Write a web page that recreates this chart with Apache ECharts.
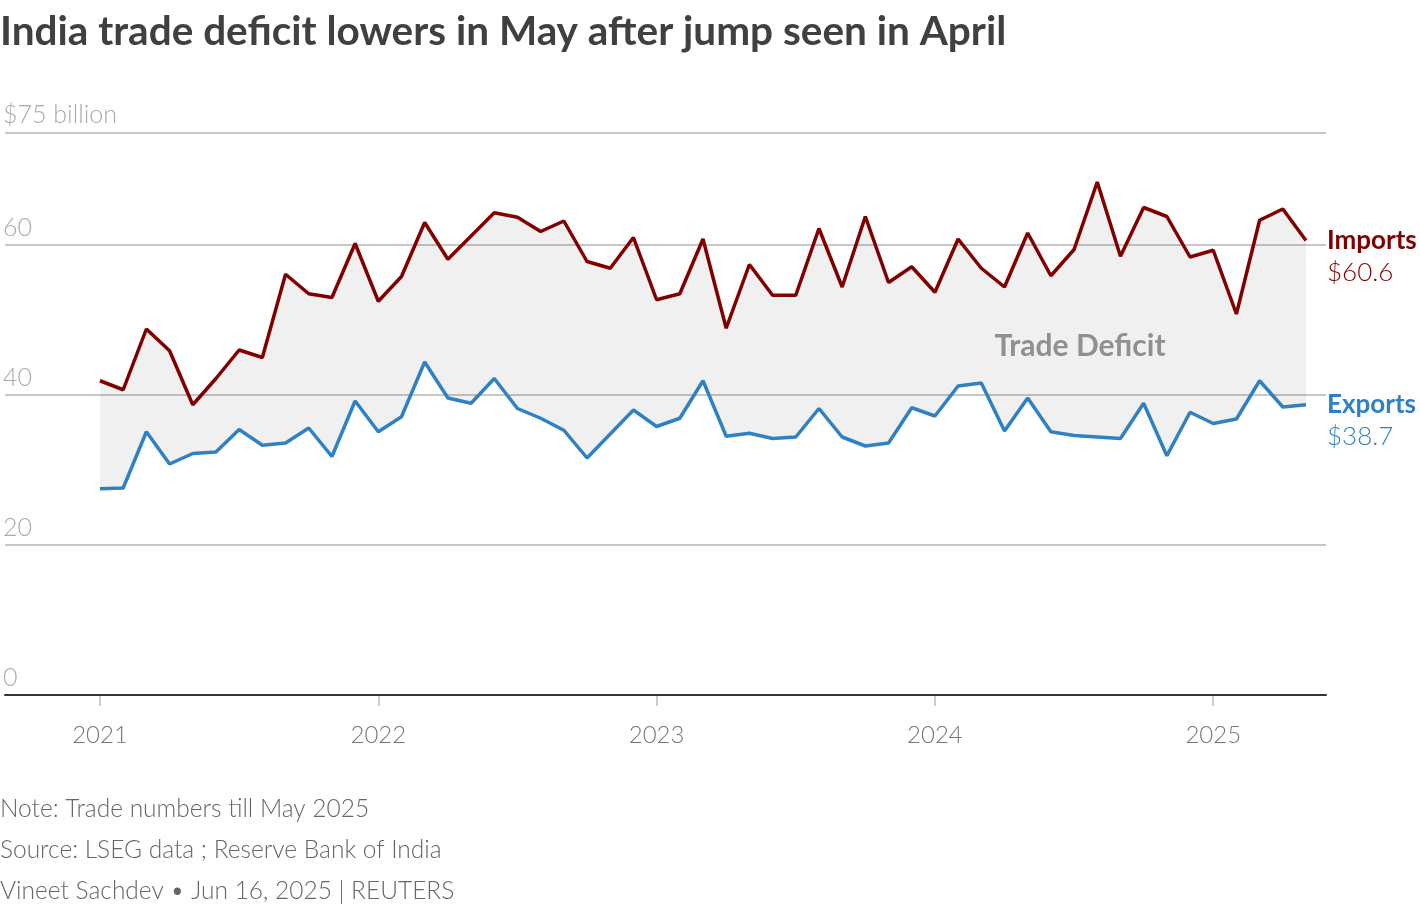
<!DOCTYPE html>
<html><head><meta charset="utf-8">
<script src="https://cdn.jsdelivr.net/npm/echarts@6/dist/echarts.min.js"></script>
<style>html,body{margin:0;padding:0;background:#fff}#c{width:1420px;height:914px}</style>
</head><body><div id="c"></div>
<script>
const months = [
 '2021-01','2021-02','2021-03','2021-04','2021-05','2021-06','2021-07','2021-08','2021-09','2021-10','2021-11','2021-12',
 '2022-01','2022-02','2022-03','2022-04','2022-05','2022-06','2022-07','2022-08','2022-09','2022-10','2022-11','2022-12',
 '2023-01','2023-02','2023-03','2023-04','2023-05','2023-06','2023-07','2023-08','2023-09','2023-10','2023-11','2023-12',
 '2024-01','2024-02','2024-03','2024-04','2024-05','2024-06','2024-07','2024-08','2024-09','2024-10','2024-11','2024-12',
 '2025-01','2025-02','2025-03','2025-04','2025-05'];
const imports = [
 41.9,40.7,48.8,45.9,38.7,42.2,46.0,45.0,56.1,53.5,53.0,60.2,
 52.5,55.8,63.0,58.1,61.2,64.3,63.7,61.8,63.2,57.8,56.9,61.0,
 52.7,53.5,60.8,48.9,57.4,53.3,53.3,62.2,54.4,63.8,55.0,57.1,
 53.7,60.8,56.9,54.4,61.6,55.9,59.4,68.4,58.5,65.0,63.8,58.4,
 59.3,50.8,63.3,64.8,60.6];
const exportsV = [
 27.5,27.6,35.1,30.8,32.2,32.4,35.4,33.3,33.6,35.6,31.8,39.2,
 35.1,37.1,44.4,39.6,38.9,42.2,38.2,36.9,35.3,31.6,34.8,38.0,
 35.8,36.9,41.9,34.5,34.9,34.2,34.4,38.2,34.4,33.2,33.6,38.3,
 37.2,41.2,41.6,35.2,39.6,35.1,34.6,34.4,34.2,38.9,31.9,37.7,
 36.2,36.8,41.9,38.4,38.7];
const yTicks = [0, 20, 40, 60, 75];
const title = 'India trade deficit lowers in May after jump seen in April';
const footer = ['Note: Trade numbers till May 2025','Source: LSEG data ; Reserve Bank of India','Vineet Sachdev \u2022 Jun 16, 2025 | REUTERS'];

const gap = imports.map((v, i) => +(v - exportsV[i]).toFixed(2));
const FONT = 'Lato';
const chart = echarts.init(document.getElementById('c'), null, {renderer: 'canvas'});
const gTop = 132.5, gBottom = 219;
chart.setOption({
  animation: false,
  textStyle: {fontFamily: FONT},
  grid: [
    {left: 0, right: 94, top: gTop, bottom: gBottom},
    {left: 100, right: 114, top: gTop, bottom: gBottom}
  ],
  xAxis: [
    {gridIndex: 0, type: 'value', min: 0, max: 1, axisLabel: {show: false}, axisTick: {show: false},
     splitLine: {show: false}, axisLine: {show: true, onZero: false, lineStyle: {color: '#333', width: 2}}, z: 5},
    {gridIndex: 1, type: 'category', data: months, boundaryGap: false,
     axisLine: {show: false},
     axisTick: {show: true, length: 11, interval: (i) => i % 12 === 0, lineStyle: {color: '#ccc', width: 2}},
     axisLabel: {interval: (i) => i % 12 === 0, formatter: (v) => v.slice(0, 4), color: '#777', fontSize: 24, margin: 28, fontFamily: FONT, fontWeight: 300},
     splitLine: {show: false}}
  ],
  yAxis: [
    {gridIndex: 0, type: 'value', min: 0, max: 75, interval: 20,
     axisLine: {show: false}, axisTick: {show: false},
     splitLine: {show: true, lineStyle: {color: '#c8c8c8', width: 2}},
     axisLabel: {inside: true, margin: -2, align: 'left', verticalAlign: 'bottom', padding: [0, 0, 5, 0],
       color: '#aaa', fontSize: 25, fontFamily: FONT, fontWeight: 300,
       formatter: (v) => v === 75 ? '$75 billion' : String(v)}},
    {gridIndex: 1, type: 'value', min: 0, max: 75, show: false, splitLine: {show: false}}
  ],
  series: [
    {name: 'base', type: 'line', xAxisIndex: 1, yAxisIndex: 1, stack: 'band', data: exportsV, symbol: 'none',
     lineStyle: {opacity: 0}, silent: true, z: 1},
    {name: 'gap', type: 'line', xAxisIndex: 1, yAxisIndex: 1, stack: 'band', data: gap, symbol: 'none',
     lineStyle: {opacity: 0}, areaStyle: {color: 'rgba(0,0,0,0.06)', opacity: 1}, silent: true, z: 1},
    {name: 'Imports', type: 'line', xAxisIndex: 1, yAxisIndex: 1, data: imports, symbol: 'none',
     lineStyle: {color: '#800000', width: 3.5}, z: 3},
    {name: 'Exports', type: 'line', xAxisIndex: 1, yAxisIndex: 1, data: exportsV, symbol: 'none',
     lineStyle: {color: '#2f81c1', width: 3.5}, z: 3}
  ],
  graphic: [
    {type: 'text', x: 0, y: 32, style: {text: title, font: `bold 40.5px ${FONT}`, fill: '#404040', verticalAlign: 'middle'}},
    {type: 'text', x: 1327, y: 241, style: {text: 'Imports', font: `bold 26px ${FONT}`, fill: '#800000', verticalAlign: 'middle'}},
    {type: 'text', x: 1327, y: 273, style: {text: '$60.6', font: `300 26px ${FONT}`, fill: '#800000', verticalAlign: 'middle'}},
    {type: 'text', x: 1327, y: 405, style: {text: 'Exports', font: `bold 26px ${FONT}`, fill: '#2f81c1', verticalAlign: 'middle'}},
    {type: 'text', x: 1327, y: 437, style: {text: '$38.7', font: `300 26px ${FONT}`, fill: '#2f81c1', verticalAlign: 'middle'}},
    {type: 'text', x: 1080, y: 346, style: {text: 'Trade Deficit', font: `bold 30px ${FONT}`, fill: '#999', align: 'center', verticalAlign: 'middle'}},
    {type: 'text', x: 0, y: 809, style: {text: footer[0], font: `300 24.5px ${FONT}`, fill: '#666', verticalAlign: 'middle'}},
    {type: 'text', x: 0, y: 850, style: {text: footer[1], font: `300 24.5px ${FONT}`, fill: '#666', verticalAlign: 'middle'}},
    {type: 'text', x: 0, y: 891, style: {text: footer[2], font: `300 24.5px ${FONT}`, fill: '#666', verticalAlign: 'middle'}}
  ]
});
</script></body></html>
